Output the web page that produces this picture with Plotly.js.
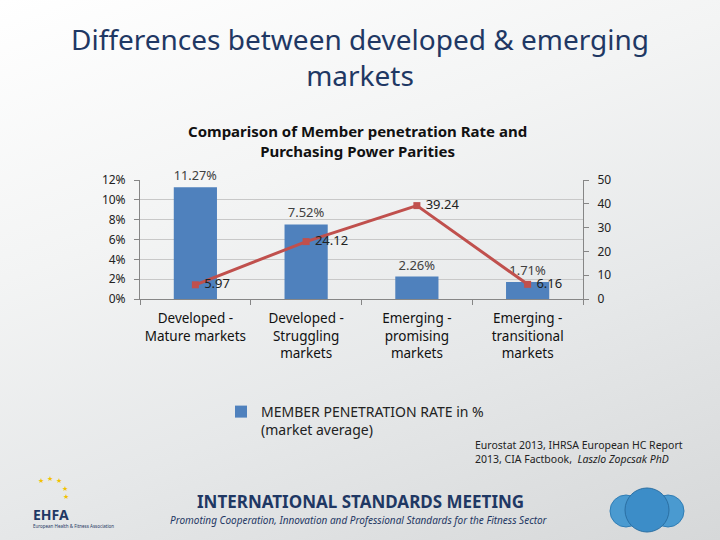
<!DOCTYPE html>
<html>
<head>
<meta charset="utf-8">
<script src="https://cdn.plot.ly/plotly-3.0.1.min.js"></script>
<style>
html,body{margin:0;padding:0;}
body{width:720px;height:540px;overflow:hidden;
background:linear-gradient(160deg,#ffffff 0%,#f3f4f4 35%,#e6e8e9 65%,#d6d8d9 100%);}
#chart{width:720px;height:540px;}
</style>
</head>
<body>
<div id="chart"></div>
<script>
// ---- data ----
const categories = [
  "Developed -<br>Mature markets",
  "Developed -<br>Struggling<br>markets",
  "Emerging -<br>promising<br>markets",
  "Emerging -<br>transitional<br>markets"
];
const penetrationRate = [0.1127, 0.0752, 0.0226, 0.0171];
const purchasingPower = [5.97, 24.12, 39.24, 6.16];
const leftTicks = [0, 0.02, 0.04, 0.06, 0.08, 0.10, 0.12];
const rightTicks = [0, 10, 20, 30, 40, 50];

const L = 140, R = 583, T = 180, B = 299;
const px = x => (x - L) / (R - L);
const py = y => (B - y) / (B - T);

const navy = "#1F3864";
const font = "Noto Sans, Open Sans, sans-serif";

const traces = [
  {
    type: "bar",
    name: "MEMBER PENETRATION RATE in %<br>(market average)",
    x: categories,
    y: penetrationRate,
    marker: {color: "#4F81BD"},
    width: 0.39,
    text: penetrationRate.map(v => (v * 100).toFixed(2) + "%"),
    textposition: "outside",
    textfont: {family: font, size: 13, color: "#404040"},
    cliponaxis: false,
    hoverinfo: "skip"
  },
  {
    type: "scatter",
    mode: "lines+markers+text",
    name: "Purchasing Power Parities",
    x: categories,
    y: purchasingPower,
    yaxis: "y2",
    line: {color: "#C0504D", width: 3},
    marker: {color: "#C0504D", symbol: "square", size: 7},
    text: purchasingPower.map(v => "\u00a0" + v.toFixed(2)),
    textposition: "middle right",
    textfont: {family: font, size: 13, color: "#222"},
    cliponaxis: false,
    showlegend: false,
    hoverinfo: "skip"
  }
];

// stars for the logo
const starAnn = [];
const starAngles = [125, 90, 55, 20, -10];
starAngles.forEach(a => {
  const r = 16, cx = 45, cy = 494;
  const sx = cx + r * Math.cos(a * Math.PI / 180);
  const sy = cy - r * Math.sin(a * Math.PI / 180);
  starAnn.push({xref: "paper", yref: "paper", x: px(sx), y: py(sy), yanchor: "middle", text: "★",
    showarrow: false, font: {size: 7, color: "#F2C200"}});
});

const circ = (x0, x1, y0, y1, fill, ln) => ({type: "circle", xref: "paper", yref: "paper",
  x0: px(x0), x1: px(x1), y0: py(y1), y1: py(y0), fillcolor: fill, line: {color: ln, width: 1}});

const layout = {
  width: 720, height: 540,
  paper_bgcolor: "rgba(0,0,0,0)",
  plot_bgcolor: "rgba(0,0,0,0)",
  margin: {l: L, r: 720 - R, t: T, b: 540 - B},
  font: {family: font, color: "#222"},
  bargap: 0.61,
  showlegend: true,
  legend: {
    x: px(221), y: py(396), xanchor: "left", yanchor: "top",
    font: {family: font, size: 14, color: "#222"},
    bgcolor: "rgba(0,0,0,0)", valign: "top",
    itemwidth: 30
  },
  xaxis: {
    type: "category",
    showline: true, linecolor: "#868686", linewidth: 1,
    ticks: "outside", ticklen: 5, tickcolor: "#868686", tickson: "boundaries",
    tickfont: {family: font, size: 13.5, color: "#111"},
    tickangle: 0,
    ticklabelstandoff: 7,
    showgrid: false, zeroline: false, fixedrange: true
  },
  yaxis: {
    range: [0, 0.12],
    tickvals: leftTicks,
    tickformat: ".0%",
    showline: true, linecolor: "#868686", linewidth: 1,
    ticks: "outside", ticklen: 5, tickcolor: "#868686",
    tickfont: {family: font, size: 12, color: "#222"},
    ticklabelstandoff: 6,
    showgrid: true, gridcolor: "#C8C8C8", gridwidth: 1,
    zeroline: false, fixedrange: true
  },
  yaxis2: {
    range: [0, 50],
    tickvals: rightTicks,
    overlaying: "y", side: "right",
    showline: true, linecolor: "#868686", linewidth: 1,
    ticks: "outside", ticklen: 5, tickcolor: "#868686",
    tickfont: {family: font, size: 12, color: "#222"},
    ticklabelstandoff: 6,
    showgrid: false, zeroline: false, fixedrange: true
  },
  annotations: [
    {xref: "paper", yref: "paper", x: px(360), y: py(57), yanchor: "middle",
     text: "Differences between developed & emerging<br>markets",
     showarrow: false, font: {family: font, size: 28, color: navy}},
    {xref: "paper", yref: "paper", x: px(357), y: py(141), yanchor: "middle",
     text: "<b>Comparison of Member penetration Rate and<br>Purchasing Power Parities</b>",
     showarrow: false, font: {family: font, size: 15, color: "#111"}},
    {xref: "paper", yref: "paper", x: px(473), y: py(452), xanchor: "left", yanchor: "middle", align: "left",
     text: "Eurostat 2013, IHRSA European HC Report<br>2013, CIA Factbook,  <i>Laszlo Zopcsak PhD</i>",
     showarrow: false, font: {family: font, size: 10.5, color: "#222"}},
    {xref: "paper", yref: "paper", x: px(360), y: py(501), yanchor: "middle",
     text: "<b>INTERNATIONAL STANDARDS MEETING</b>",
     showarrow: false, font: {family: font, size: 17, color: navy}},
    {xref: "paper", yref: "paper", x: px(359), y: py(520), yanchor: "middle",
     text: "<i>Promoting Cooperation, Innovation and Professional Standards for the Fitness Sector</i>",
     showarrow: false, font: {family: font, size: 10, color: navy}},
    {xref: "paper", yref: "paper", x: px(31), y: py(514), xanchor: "left", yanchor: "middle",
     text: "<b>EHFA</b>", showarrow: false, font: {family: font, size: 14, color: navy}},
    {xref: "paper", yref: "paper", x: px(31), y: py(526), xanchor: "left", yanchor: "middle",
     text: "European Health & Fitness Association", showarrow: false, font: {family: font, size: 4.5, color: navy}}
  ].concat(starAnn),
  shapes: [
    circ(610, 642, 495, 527, "#4A9AD0", "#2F7DB5"),
    circ(652, 684, 495, 527, "#4A9AD0", "#2F7DB5"),
    circ(625, 669, 488, 532, "#3C8DC8", "#2A6FA3")
  ]
};

Plotly.newPlot("chart", traces, layout, {displayModeBar: false, staticPlot: true});
</script>
</body>
</html>
